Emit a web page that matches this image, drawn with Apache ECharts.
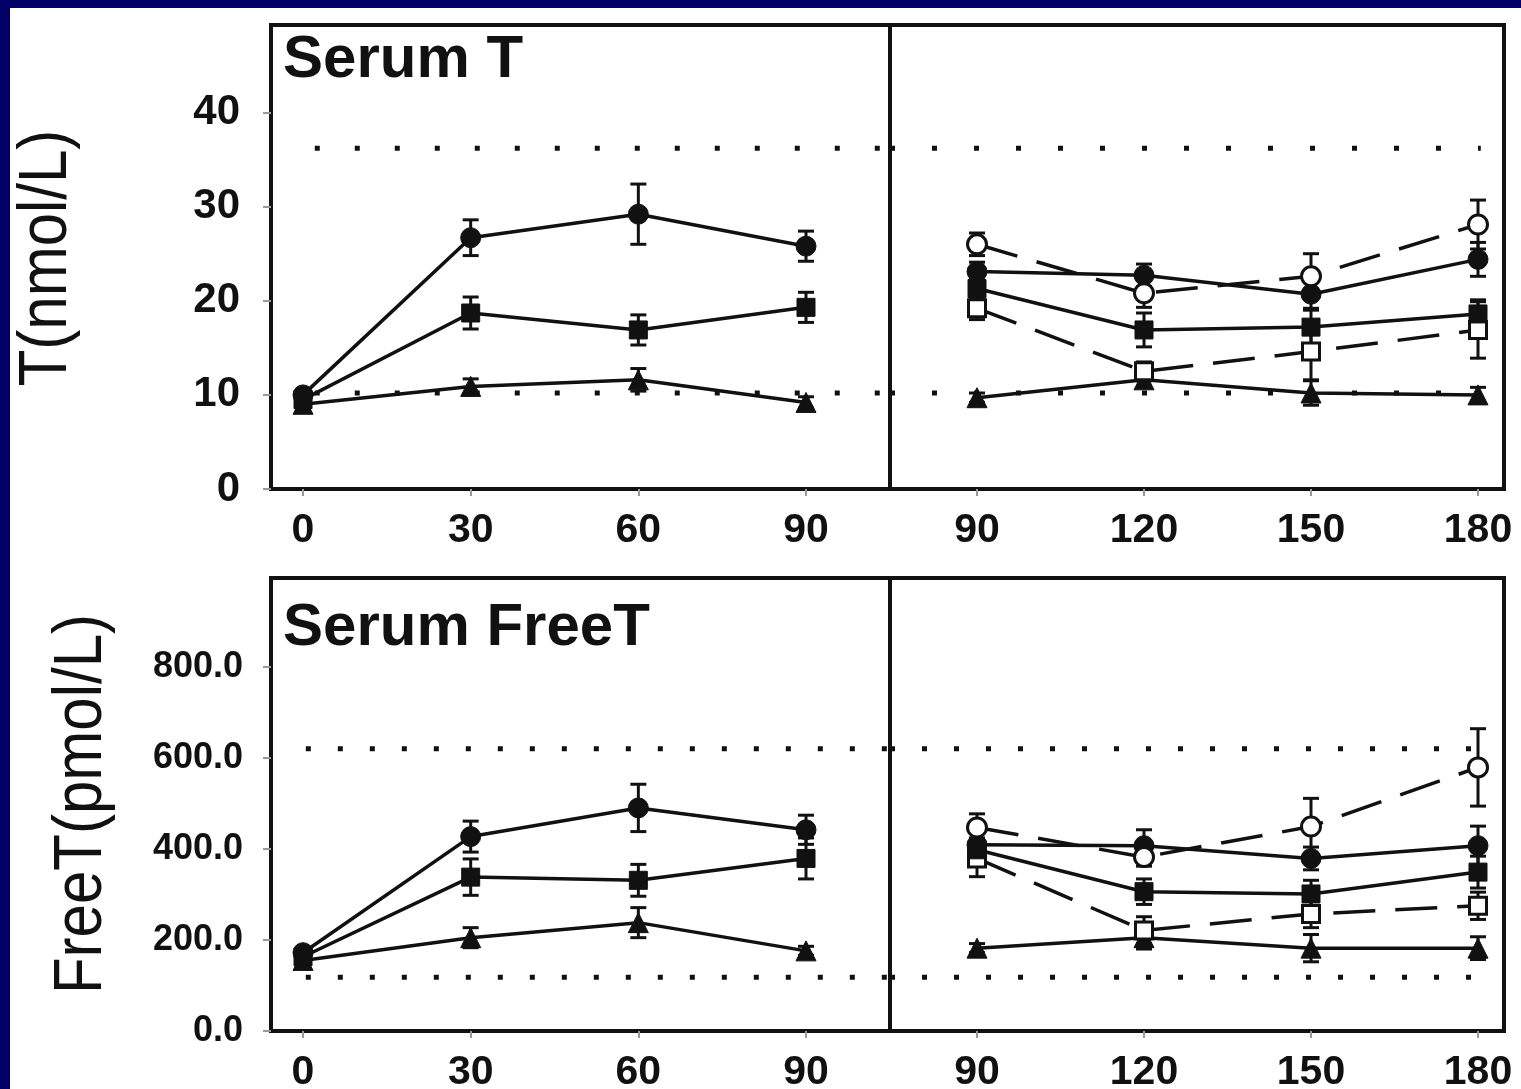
<!DOCTYPE html>
<html><head><meta charset="utf-8">
<script src="https://cdn.jsdelivr.net/npm/echarts@6/dist/echarts.min.js"></script>
<style>html,body{margin:0;padding:0;background:#fff;}#c{width:1521px;height:1089px;}</style>
</head><body><div id="c"></div>
<script>
// ---- data ----
const xLeft = [0, 30, 60, 90];
const xRight = [90, 120, 150, 180];
const xTicksLeft = [0, 30, 60, 90];
const xTicksRight = [90, 120, 150, 180];
const yTicksT = [0, 10, 20, 30, 40];
const yTicksFT = [0, 200, 400, 600, 800];
const refT = [36.2, 10.2];
const refFT = [620, 118];

// Serum T, days 0-90
const tL_fc = [10.0, 26.7, 29.2, 25.8];  const tL_fc_e = [0.5, 1.9, 3.2, 1.6];
const tL_fs = [9.5, 18.7, 16.9, 19.3];   const tL_fs_e = [0.5, 1.7, 1.6, 1.6];
const tL_ft = [9.0, 10.9, 11.6, 9.2];    const tL_ft_e = [0.4, 0.8, 1.2, 0.6];
// Serum T, days 90-180
const tR_oc = [26.0, 20.8, 22.6, 28.1];  const tR_oc_e = [1.2, 1.5, 2.4, 2.6];
const tR_fc = [23.1, 22.7, 20.7, 24.4];  const tR_fc_e = [1.0, 1.2, 1.5, 1.8];
const tR_fs = [21.3, 16.9, 17.2, 18.6];  const tR_fs_e = [1.2, 1.8, 1.8, 1.5];
const tR_os = [19.2, 12.5, 14.6, 16.9];  const tR_os_e = [1.2, 1.0, 3.0, 3.0];
const tR_ft = [9.7, 11.6, 10.2, 10.0];   const tR_ft_e = [0.5, 0.8, 1.3, 0.8];
// Serum FreeT, days 0-90
const fL_fc = [172, 427, 490, 442];      const fL_fc_e = [10, 34, 52, 32];
const fL_fs = [163, 338, 331, 379];      const fL_fs_e = [10, 40, 35, 45];
const fL_ft = [155, 205, 238, 176];      const fL_ft_e = [8, 22, 33, 10];
// Serum FreeT, days 90-180
const fR_oc = [447, 382, 449, 579];      const fR_oc_e = [30, 20, 62, 85];
const fR_fc = [409, 407, 379, 407];      const fR_fc_e = [15, 35, 25, 43];
const fR_fs = [398, 306, 301, 349];      const fR_fs_e = [20, 28, 30, 35];
const fR_os = [379, 221, 257, 275];      const fR_os_e = [40, 30, 30, 30];
const fR_ft = [182, 205, 182, 182];      const fR_ft_e = [10, 25, 30, 25];

// ---- styling / builders ----
const INK = '#111';
const FONT = '"Liberation Sans", Arial, sans-serif';
const markers = {
  fc: {symbol: 'circle', symbolSize: 20, itemStyle: {color: INK, borderColor: INK, borderWidth: 1}},
  fs: {symbol: 'rect', symbolSize: 18, itemStyle: {color: INK, borderColor: INK, borderWidth: 1}},
  ft: {symbol: 'triangle', symbolSize: 20, itemStyle: {color: INK, borderColor: INK, borderWidth: 1}},
  oc: {symbol: 'circle', symbolSize: 19, itemStyle: {color: '#fff', borderColor: INK, borderWidth: 3}},
  os: {symbol: 'rect', symbolSize: 17, itemStyle: {color: '#fff', borderColor: INK, borderWidth: 3}}
};
function lineS(g, xs, ys, kind, dashed) {
  return Object.assign({
    type: 'line', xAxisIndex: g, yAxisIndex: g,
    data: xs.map((x, i) => [x, ys[i]]),
    showSymbol: true, animation: false, z: 5,
    lineStyle: {color: INK, width: 3.5, type: dashed ? [42, 20] : 'solid'}
  }, markers[kind]);
}
function errS(g, xs, ys, es) {
  return {
    type: 'custom', xAxisIndex: g, yAxisIndex: g, z: 3, animation: false,
    data: xs.map((x, i) => [x, ys[i], es[i]]),
    renderItem: function (params, api) {
      const x = api.value(0), y = api.value(1), e = api.value(2);
      const t = api.coord([x, y + e]), b = api.coord([x, y - e]);
      const w = 8, st = {stroke: INK, lineWidth: 3};
      return {type: 'group', children: [
        {type: 'line', shape: {x1: t[0], y1: t[1], x2: b[0], y2: b[1]}, style: st},
        {type: 'line', shape: {x1: t[0] - w, y1: t[1], x2: t[0] + w, y2: t[1]}, style: st},
        {type: 'line', shape: {x1: b[0] - w, y1: b[1], x2: b[0] + w, y2: b[1]}, style: st}
      ]};
    }
  };
}
function refS(g, x1, x2, y, gap) {
  return {type: 'line', xAxisIndex: g, yAxisIndex: g, data: [[x1, y], [x2, y]],
    symbol: 'none', animation: false, z: 2,
    lineStyle: {color: INK, width: 5, type: [5, gap], cap: 'butt'}};
}
function group(g, xs, list) {
  const out = [];
  list.forEach(([ys, es, kind, dashed]) => {
    out.push(errS(g, xs, ys, es));
    out.push(lineS(g, xs, ys, kind, dashed));
  });
  return out;
}

const LX = [-5.73, 105.03], RX = [74.37, 184.67];
const grids = [
  {left: 271, top: 25, width: 619, height: 464},
  {left: 890, top: 25, width: 614, height: 464},
  {left: 271, top: 578, width: 619, height: 453},
  {left: 890, top: 578, width: 614, height: 453}
].map(g => Object.assign(g, {show: true, borderColor: INK, borderWidth: 4, backgroundColor: 'transparent', containLabel: false, outerBoundsMode: 'none'}));

function xAx(g, ext, ticks) {
  return {type: 'value', gridIndex: g, min: ext[0], max: ext[1],
    axisLine: {show: false, onZero: false}, splitLine: {show: false},
    axisTick: {show: true, inside: false, length: 7, lineStyle: {color: '#999', width: 2}, customValues: ticks},
    axisLabel: {customValues: ticks, fontSize: 41, fontWeight: 'bold', fontFamily: FONT, color: INK, margin: 21}};
}
function yAx(g, max, ticks, show, fmt, fs, margin) {
  return {type: 'value', gridIndex: g, min: 0, max: max, show: show,
    axisLine: {show: false, onZero: false}, splitLine: {show: false},
    axisTick: {show: true, inside: false, length: 8, lineStyle: {color: '#999', width: 2}, customValues: ticks},
    axisLabel: {customValues: ticks, fontSize: fs, fontWeight: 'bold', fontFamily: FONT, color: INK, margin: margin, formatter: fmt}};
}

const series = [].concat(
  [refS(0, 2.1, LX[1], refT[0], 35), refS(0, 2.1, LX[1], refT[1], 35),
   refS(1, RX[0], 180.5, refT[0], 37), refS(1, RX[0], 180.5, refT[1], 37),
   refS(2, 0.5, LX[1], refFT[0], 27), refS(2, 0.5, LX[1], refFT[1], 27),
   refS(3, RX[0], 182.5, refFT[0], 27), refS(3, RX[0], 182.5, refFT[1], 27)],
  group(0, xLeft, [[tL_ft, tL_ft_e, 'ft'], [tL_fs, tL_fs_e, 'fs'], [tL_fc, tL_fc_e, 'fc']]),
  group(1, xRight, [[tR_ft, tR_ft_e, 'ft'], [tR_os, tR_os_e, 'os', true], [tR_fs, tR_fs_e, 'fs'], [tR_fc, tR_fc_e, 'fc'], [tR_oc, tR_oc_e, 'oc', true]]),
  group(2, xLeft, [[fL_ft, fL_ft_e, 'ft'], [fL_fs, fL_fs_e, 'fs'], [fL_fc, fL_fc_e, 'fc']]),
  group(3, xRight, [[fR_ft, fR_ft_e, 'ft'], [fR_os, fR_os_e, 'os', true], [fR_fs, fR_fs_e, 'fs'], [fR_fc, fR_fc_e, 'fc'], [fR_oc, fR_oc_e, 'oc', true]])
);

const chart = echarts.init(document.getElementById('c'), null, {renderer: 'canvas'});
chart.setOption({
  backgroundColor: '#fff',
  animation: false,
  grid: grids,
  xAxis: [xAx(0, LX, xTicksLeft), xAx(1, RX, xTicksRight), xAx(2, LX, xTicksLeft), xAx(3, RX, xTicksRight)],
  yAxis: [
    yAx(0, 49.3, yTicksT, true, v => String(v), 42, 31),
    yAx(1, 49.3, yTicksT, false, v => String(v), 42, 31),
    yAx(2, 995, yTicksFT, true, v => v.toFixed(1), 36, 28),
    yAx(3, 995, yTicksFT, false, v => v.toFixed(1), 36, 28)
  ],
  series: series,
  graphic: [
    {type: 'rect', shape: {x: 0, y: 0, width: 1521, height: 8}, style: {fill: '#000066'}, z: 100},
    {type: 'rect', shape: {x: 0, y: 0, width: 10, height: 1089}, style: {fill: '#000066'}, z: 100},
    {type: 'text', x: 283, y: 60, z: 50, style: {text: 'Serum T', font: 'bold 60px ' + FONT, fill: INK, align: 'left', verticalAlign: 'middle'}},
    {type: 'text', x: 283, y: 628, z: 50, style: {text: 'Serum FreeT', font: 'bold 60px ' + FONT, fill: INK, align: 'left', verticalAlign: 'middle'}},
    {type: 'text', x: 47, y: 258, rotation: Math.PI / 2, scaleY: 1.15, z: 50, style: {text: 'T(nmol/L)', font: '60px ' + FONT, fill: INK, align: 'center', verticalAlign: 'middle'}},
    {type: 'text', x: 82, y: 804, rotation: Math.PI / 2, scaleY: 1.15, z: 50, style: {text: 'FreeT(pmol/L)', font: '60px ' + FONT, fill: INK, align: 'center', verticalAlign: 'middle'}}
  ]
});
</script></body></html>
